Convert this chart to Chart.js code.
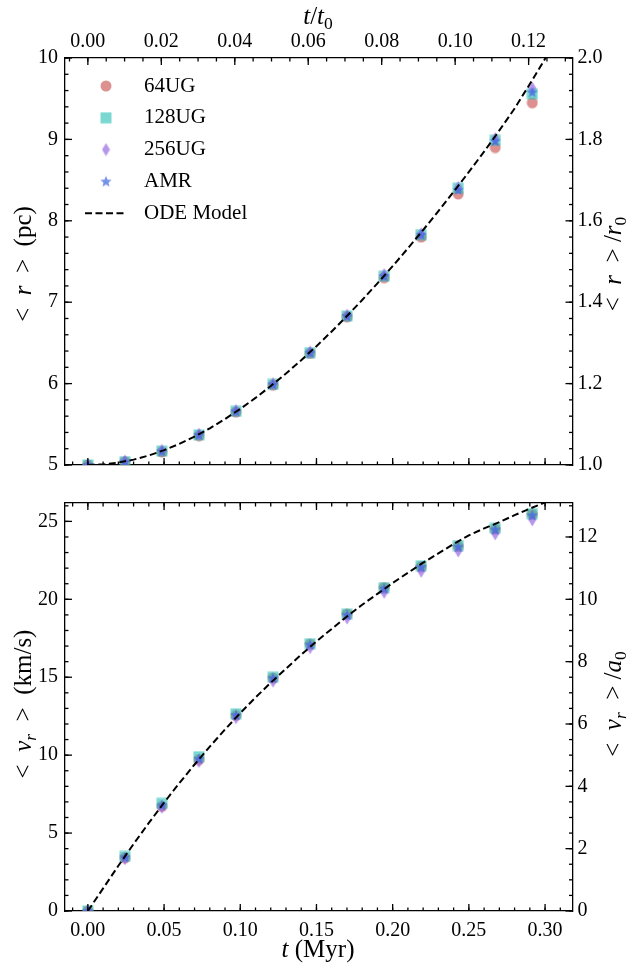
<!DOCTYPE html>
<html>
<head>
<meta charset="utf-8">
<script src="https://cdn.jsdelivr.net/npm/chart.js@4.4.1/dist/chart.umd.min.js"></script>
<style>
  body { margin: 0; background: #fff; }
  canvas { display: block; }
</style>
</head>
<body>
<canvas id="top" width="636" height="484"></canvas>
<canvas id="bottom" width="636" height="482"></canvas>
<script>
// Snapshot times (Myr)
const times = [0, 0.0243, 0.0486, 0.0729, 0.0972, 0.1215, 0.1458, 0.1701, 0.1944, 0.2187, 0.2430, 0.2673, 0.2916];

// mean radius <r> (pc)
const r64 = [5.00, 5.04, 5.16, 5.36, 5.65, 5.98, 6.37, 6.82, 7.30, 7.80, 8.33, 8.90, 9.45];
const r128 = [5.00, 5.04, 5.17, 5.37, 5.66, 5.99, 6.38, 6.83, 7.32, 7.83, 8.40, 8.99, 9.56];
const r256 = [5.00, 5.05, 5.18, 5.38, 5.67, 6.00, 6.39, 6.84, 7.34, 7.84, 8.41, 9.01, 9.63];
const rAMR = [5.00, 5.04, 5.17, 5.37, 5.66, 5.99, 6.38, 6.83, 7.32, 7.83, 8.38, 8.98, 9.58];

// mean radial velocity <v_r> (km/s)
const v64 = [0.0, 3.42, 6.72, 9.72, 12.55, 14.95, 17.12, 19.05, 20.75, 22.10, 23.40, 24.50, 25.45];
const v128 = [0.0, 3.50, 6.90, 9.90, 12.65, 15.00, 17.15, 19.05, 20.75, 22.15, 23.45, 24.55, 25.50];
const v256 = [0.0, 3.35, 6.65, 9.60, 12.40, 14.75, 16.90, 18.80, 20.45, 21.80, 23.10, 24.20, 25.10];
const vAMR = [0.0, 3.45, 6.78, 9.77, 12.58, 14.95, 17.10, 19.00, 20.70, 22.08, 23.38, 24.48, 25.40];

// ODE model curve
const odeT = [0, 0.01, 0.02, 0.03, 0.04, 0.05, 0.06, 0.07, 0.08, 0.09, 0.10, 0.11, 0.12, 0.13, 0.14, 0.15,
  0.16, 0.17, 0.18, 0.19, 0.20, 0.21, 0.22, 0.23, 0.24, 0.25, 0.26, 0.27, 0.28, 0.29, 0.30, 0.31];
const odeR = [5.000, 5.007, 5.030, 5.066, 5.117, 5.182, 5.259, 5.349, 5.451, 5.565, 5.689, 5.824, 5.970,
  6.124, 6.288, 6.460, 6.641, 6.830, 7.027, 7.232, 7.443, 7.662, 7.887, 8.119, 8.357, 8.600, 8.850,
  9.110, 9.380, 9.680, 9.990, 10.30];
const odeV = [0, 1.45, 2.9, 4.3, 5.65, 6.95, 8.2, 9.4, 10.55, 11.65, 12.7, 13.7, 14.65, 15.55, 16.45, 17.3,
  18.1, 18.9, 19.65, 20.35, 21.05, 21.7, 22.35, 22.95, 23.55, 24.1, 24.55, 24.95, 25.4, 25.82, 26.22, 26.6];

const t0 = 2.41;   // Myr
const r0 = 5;      // pc
const a0 = 2;      // km/s
const tMin = -0.015, tMax = 0.318;

const FONT = '"Liberation Serif", "Times New Roman", serif';

function marker(shape, color) {
  const c = document.createElement('canvas');
  const w = shape === 'diamond' ? 9 : 12, h = shape === 'diamond' ? 14 : 12;
  c.width = w; c.height = h;
  const g = c.getContext('2d');
  g.fillStyle = color;
  g.beginPath();
  if (shape === 'circle') g.arc(6, 6, 5.5, 0, Math.PI * 2);
  if (shape === 'square') g.rect(0.5, 0.5, 11, 11);
  if (shape === 'diamond') { g.moveTo(4.5, 0.5); g.lineTo(8.5, 7); g.lineTo(4.5, 13.5); g.lineTo(0.5, 7); g.closePath(); }
  if (shape === 'star') {
    for (let i = 0; i < 10; i++) {
      const ang = -Math.PI / 2 + i * Math.PI / 5, rr = i % 2 ? 2.6 : 6;
      g.lineTo(6 + rr * Math.cos(ang), 6.4 + rr * Math.sin(ang));
    }
    g.closePath();
  }
  g.fill();
  return c;
}

const mk = {
  '64UG': marker('circle', 'rgba(205,92,92,0.68)'),
  '128UG': marker('square', 'rgba(40,190,180,0.62)'),
  '256UG': marker('diamond', 'rgba(147,100,225,0.68)'),
  'AMR': marker('star', 'rgba(65,105,225,0.72)')
};

function pts(xs, ys) { return xs.map((x, i) => ({ x: x, y: ys[i] })); }

function scatterSets(s64, s128, s256, sAMR, ode, odeY) {
  return [
    { label: 'ODE Model', data: pts(odeT, odeY), showLine: true, borderColor: '#000', borderWidth: 2,
      borderDash: [7, 3.5], pointRadius: 0, fill: false, order: -1 },
    { label: 'AMR', data: pts(times, sAMR), pointStyle: mk['AMR'], order: 0 },
    { label: '256UG', data: pts(times, s256), pointStyle: mk['256UG'], order: 1 },
    { label: '128UG', data: pts(times, s128), pointStyle: mk['128UG'], order: 2 },
    { label: '64UG', data: pts(times, s64), pointStyle: mk['64UG'], order: 3 }
  ];
}

function richText(ctx, segs, x, y, rot, size) {
  ctx.save();
  ctx.translate(x, y);
  ctx.rotate(rot);
  const fontOf = s => (s.it ? 'italic ' : '') + (s.sub ? size * 0.7 : size) + 'px ' + FONT;
  let w = 0;
  segs.forEach(s => { ctx.font = fontOf(s); s.w = ctx.measureText(s.t).width; w += s.w; });
  let cx = -w / 2;
  ctx.textBaseline = 'middle';
  ctx.fillStyle = '#000';
  segs.forEach(s => { ctx.font = fontOf(s); ctx.fillText(s.t, cx, s.sub ? size * 0.28 : 0); cx += s.w; });
  ctx.restore();
}

// inward tick marks, major + minor
const tickMarks = {
  id: 'tickMarks',
  afterDraw(chart, args, opts) {
    const ctx = chart.ctx, a = chart.chartArea;
    ctx.save();
    ctx.strokeStyle = '#000';
    ctx.lineWidth = 1.3;
    Object.values(chart.scales).forEach(s => {
      const draw = (v, len) => {
        const p = s.getPixelForValue(v);
        ctx.beginPath();
        if (s.position === 'bottom') { ctx.moveTo(p, a.bottom); ctx.lineTo(p, a.bottom - len); }
        if (s.position === 'top') { ctx.moveTo(p, a.top); ctx.lineTo(p, a.top + len); }
        if (s.position === 'left') { ctx.moveTo(a.left, p); ctx.lineTo(a.left + len, p); }
        if (s.position === 'right') { ctx.moveTo(a.right, p); ctx.lineTo(a.right - len, p); }
        ctx.stroke();
      };
      s.ticks.forEach(t => draw(t.value, 7));
      const m = opts.minor[s.id];
      if (m) {
        for (let k = Math.ceil(s.min / m - 1e-6); k * m <= s.max + 1e-9; k++) draw(k * m, 3.5);
      }
    });
    ctx.restore();
  }
};

const titles = {
  id: 'titles',
  afterDraw(chart, args, opts) {
    opts.items.forEach(it => richText(chart.ctx, it.segs, it.x, it.y, it.rot || 0, it.size || 25));
  }
};

const legendBox = {
  id: 'legendBox',
  afterDraw(chart, args, opts) {
    if (!opts.show) return;
    const ctx = chart.ctx;
    const names = ['64UG', '128UG', '256UG', 'AMR', 'ODE Model'];
    ctx.save();
    ctx.font = '21px ' + FONT;
    ctx.fillStyle = '#000';
    ctx.textBaseline = 'middle';
    names.forEach((n, i) => {
      const y = 86 + i * 31.8;
      if (mk[n]) {
        ctx.drawImage(mk[n], 106 - mk[n].width / 2, y - mk[n].height / 2);
      } else {
        ctx.strokeStyle = '#000';
        ctx.lineWidth = 2;
        ctx.setLineDash([7, 3.5]);
        ctx.beginPath(); ctx.moveTo(85, y); ctx.lineTo(126, y); ctx.stroke();
        ctx.setLineDash([]);
      }
      ctx.fillText(n, 144, y);
    });
    ctx.restore();
  }
};

function axisX(pos, height, show, extra) {
  return Object.assign({
    type: 'linear', position: pos, min: tMin, max: tMax,
    grid: { display: false, drawTicks: false },
    border: { display: true, color: '#000', width: 1.3 },
    ticks: { display: show, stepSize: 0.05, includeBounds: false, autoSkip: false, maxRotation: 0,
      padding: 8, color: '#000', font: { family: FONT, size: 20 }, callback: v => v.toFixed(2) },
    afterFit(s) { s.height = height; }
  }, extra || {});
}

function axisY(pos, width, min, max, step, fmt, pad) {
  return {
    type: 'linear', position: pos, min: min, max: max,
    grid: { display: false, drawTicks: false },
    border: { display: true, color: '#000', width: 1.3 },
    ticks: { stepSize: step, includeBounds: false, autoSkip: false, padding: pad, color: '#000',
      font: { family: FONT, size: 20 }, callback: v => v.toFixed(fmt) },
    afterFit(s) { s.width = width; }
  };
}

const common = {
  responsive: false,
  animation: false,
  layout: { padding: 0 },
  elements: { point: { radius: 6, hoverRadius: 6 } }
};

new Chart(document.getElementById('top'), {
  type: 'scatter',
  data: { datasets: scatterSets(r64, r128, r256, rAMR, odeT, odeR) },
  options: Object.assign({}, common, {
    scales: {
      x: axisX('bottom', 14, false),
      x2: axisX('top', 58, true, { min: tMin / t0, max: tMax / t0,
        ticks: { stepSize: 0.02, includeBounds: false, autoSkip: false, maxRotation: 0, padding: 4, color: '#000',
          font: { family: FONT, size: 20 }, callback: v => v.toFixed(2) } }),
      y: axisY('left', 65, 5, 10, 1, 0, 7),
      y2: axisY('right', 63.5, 5 / r0, 10 / r0, 0.2, 1, 5)
    },
    plugins: {
      legend: { display: false },
      tooltip: { enabled: false },
      tickMarks: { minor: { x: 0.01, x2: 0.005, y: 0.2, y2: 0.04 } },
      legendBox: { show: true },
      titles: { items: [
        { segs: [{ t: 't', it: true }, { t: '/' }, { t: 't', it: true }, { t: '0', sub: true }], x: 318, y: 17 },
        { segs: [{ t: '<  ' }, { t: 'r', it: true }, { t: '  >  (pc)' }], x: 24, y: 264, rot: -Math.PI / 2 },
        { segs: [{ t: '<  ' }, { t: 'r', it: true }, { t: '  > /' }, { t: 'r', it: true }, { t: '0', sub: true }],
          x: 614, y: 264, rot: -Math.PI / 2 }
      ] }
    }
  }),
  plugins: [tickMarks, titles, legendBox]
});

new Chart(document.getElementById('bottom'), {
  type: 'scatter',
  data: { datasets: scatterSets(v64, v128, v256, vAMR, odeT, odeV) },
  options: Object.assign({}, common, {
    scales: {
      x: axisX('bottom', 55, true),
      xTop: axisX('top', 13.3, false),
      y: axisY('left', 65, 0, 26.18, 5, 0, 7),
      y2: axisY('right', 63.5, 0, 26.18 / a0, 2, 0, 5)
    },
    plugins: {
      legend: { display: false },
      tooltip: { enabled: false },
      tickMarks: { minor: { x: 0.01, xTop: 0.01, y: 1, y2: 0.5 } },
      legendBox: { show: false },
      titles: { items: [
        { segs: [{ t: 't', it: true }, { t: ' (Myr)' }], x: 318, y: 466 },
        { segs: [{ t: '<  ' }, { t: 'v', it: true }, { t: 'r', it: true, sub: true }, { t: '  >  (km/s)' }],
          x: 24, y: 220, rot: -Math.PI / 2 },
        { segs: [{ t: '<  ' }, { t: 'v', it: true }, { t: 'r', it: true, sub: true }, { t: '  > /' },
          { t: 'a', it: true }, { t: '0', sub: true }], x: 614, y: 220, rot: -Math.PI / 2 }
      ] }
    }
  }),
  plugins: [tickMarks, titles, legendBox]
});
</script>
</body>
</html>
